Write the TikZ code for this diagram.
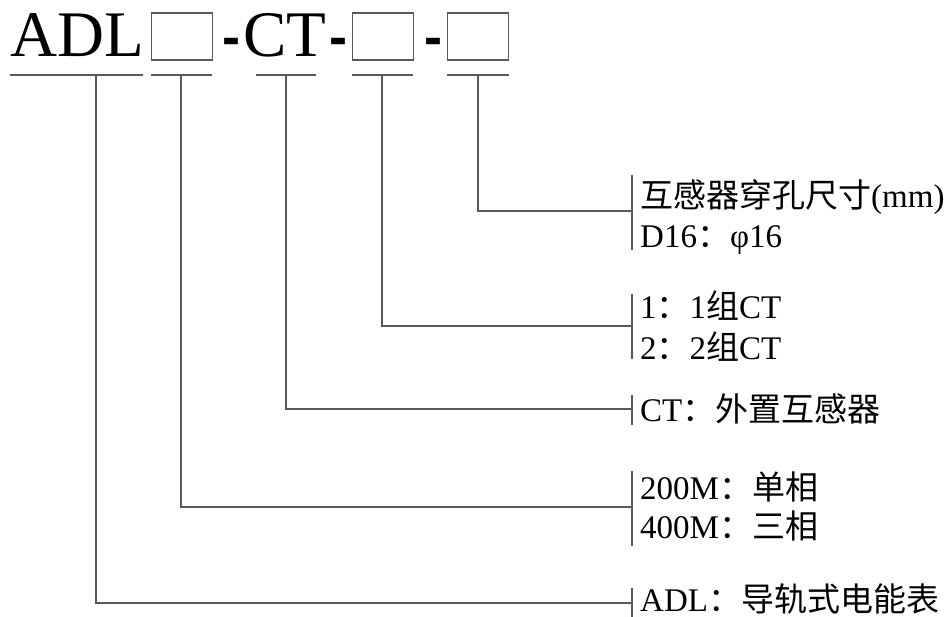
\documentclass[tikz,border=0pt]{standalone}
\usepackage{fontspec}
\setmainfont{Liberation Serif}
\newfontfamily\zhfont{Noto Sans CJK SC}
\newfontfamily\dashfont{Liberation Sans}
\newcommand{\zh}[1]{{\zhfont #1}}
\begin{document}
\begin{tikzpicture}[x=1pt,y=-1pt,
  hdr/.style={anchor=base west,inner sep=0pt,font=\fontsize{65}{70}\selectfont},
  dsh/.style={anchor=base west,inner sep=0pt,font=\dashfont\bfseries\fontsize{54}{60}\selectfont},
  slot/.style={draw=black!65,line width=1.4pt,minimum width=61pt,minimum height=47pt,inner sep=0pt},
  uline/.style={draw=black!65,line width=1.4pt},
  conn/.style={draw=black!65,line width=1.4pt},
  bar/.style={draw=black!65,line width=1.4pt},
  lbl/.style={anchor=base west,inner sep=0pt,font=\fontsize{33}{36}\selectfont}]
\useasboundingbox (0,0) rectangle (944,617);
% header
\node[hdr] (adl) at (10,57) {ADL};
\node[slot] (b1) at (182,36.5) {};
\node[dsh] (d1) at (222,56) {-};
\node[hdr] (ct) at (243,57) {CT};
\node[dsh] (d2) at (329,56) {-};
\node[slot] (b2) at (383,36.5) {};
\node[dsh] (d3) at (424,56) {-};
\node[slot] (b3) at (478,36.5) {};
% underlines
\draw[uline] (10,75) -- (143,75);
\draw[uline] (151,75) -- (212,75);
\draw[uline] (256,75) -- (316,75);
\draw[uline] (352,75) -- (413,75);
\draw[uline] (447,75) -- (509,75);
\coordinate (u1) at (96,75);
\coordinate (u2) at (181,75);
\coordinate (u3) at (286,75);
\coordinate (u4) at (382,75);
\coordinate (u5) at (478,75);
% bars
\draw[bar] (632,175) -- (632,250);
\draw[bar] (632,294) -- (632,359);
\draw[bar] (632,395) -- (632,425);
\draw[bar] (632,471) -- (632,546);
\draw[bar] (632,588) -- (632,617);
\coordinate (j5) at (632,211);
\coordinate (j4) at (632,326);
\coordinate (j3) at (632,409);
\coordinate (j2) at (632,507);
\coordinate (j1) at (632,603);
\draw[conn] (u5) |- (j5);
\draw[conn] (u4) |- (j4);
\draw[conn] (u3) |- (j3);
\draw[conn] (u2) |- (j2);
\draw[conn] (u1) |- (j1);
% labels
\node[lbl] (l5a) at (640,208) {\zh{互感器穿孔尺寸}(mm)};
\node[lbl] (l5b) at (640,248) {D16\zh{：}φ16};
\node[lbl] (l4a) at (640,319) {1\zh{：}1\zh{组}CT};
\node[lbl] (l4b) at (640,359) {2\zh{：}2\zh{组}CT};
\node[lbl] (l3) at (640,421) {CT\zh{：外置互感器}};
\node[lbl] (l2a) at (640,499) {200M\zh{：单相}};
\node[lbl] (l2b) at (640,538) {400M\zh{：三相}};
\node[lbl] (l1) at (640,611) {ADL\zh{：导轨式电能表}};
\end{tikzpicture}
\end{document}
